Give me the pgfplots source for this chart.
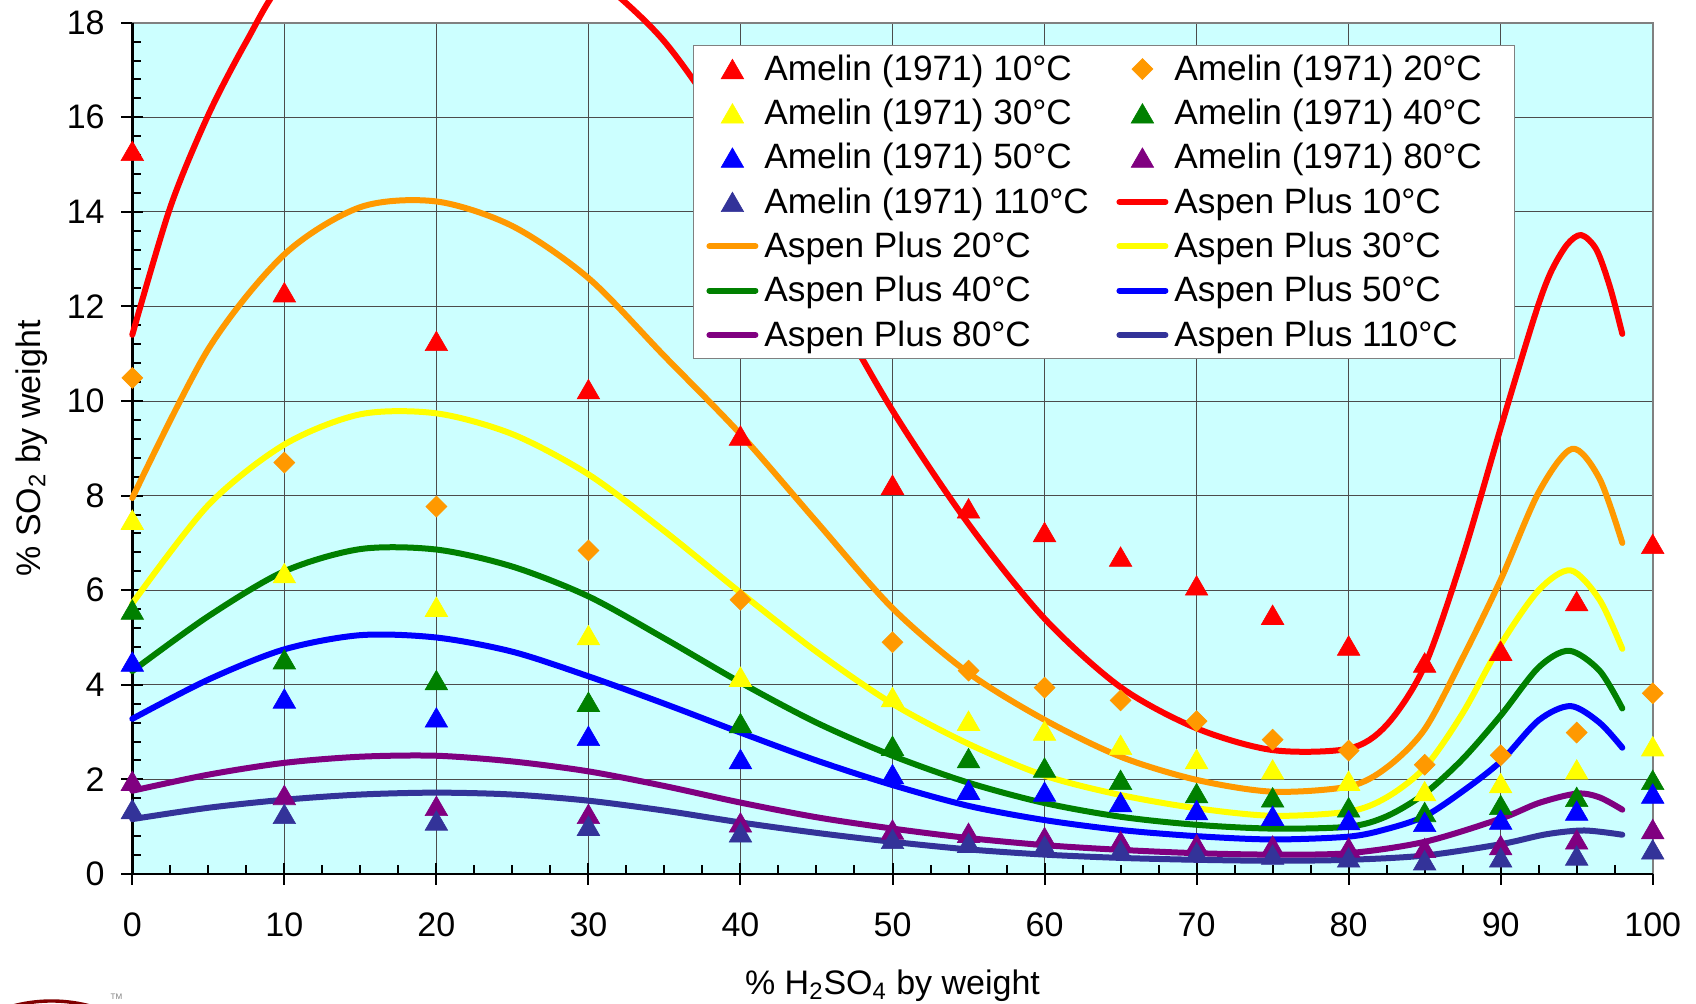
\documentclass[border=0pt]{standalone}
\usepackage{pgfplots}
\pgfplotsset{compat=1.18}
\usepackage{fontspec}
\setmainfont{Liberation Sans}
\definecolor{cR}{RGB}{255,0,0}
\definecolor{cO}{RGB}{255,153,0}
\definecolor{cY}{RGB}{255,255,0}
\definecolor{cG}{RGB}{0,128,0}
\definecolor{cB}{RGB}{0,0,255}
\definecolor{cP}{RGB}{128,0,128}
\definecolor{cI}{RGB}{51,51,153}
\definecolor{bg}{RGB}{204,255,255}
\definecolor{logo}{RGB}{128,0,0}
\pgfplotsset{
 legline/.style={legend image code/.code={\path[draw=none,fill=none] (0pt,0pt) -- (25pt,0pt); \draw[##1, line width=3pt, line cap=round] (1pt,0pt) -- (24pt,0pt);}},
 legmark/.style={legend image code/.code={\path[draw=none,fill=none] (0pt,0pt) -- (25pt,0pt); \draw[##1] plot[only marks] coordinates {(12.5pt,0pt)};}},
 asp/.style={color=#1, line width=3pt, line cap=round, line join=round, smooth, no markers, forget plot},
 aspleg/.style={color=#1, line width=3pt, line cap=round, legline},
 ame/.style={only marks, mark=triangle*, mark size=6.5pt, color=#1, mark options={solid, fill=#1, draw=#1, line width=0.3pt, yshift=-1.6pt}, legmark},
 amed/.style={only marks, mark=square*, mark size=3.7pt, color=#1, mark options={solid, fill=#1, draw=#1, line width=0.3pt, rotate=45}, legmark},
}
\newcommand{\ea}[1]{\makebox[176pt][l]{\rule[-3.5pt]{0pt}{16pt}#1}}
\newcommand{\eb}[1]{\makebox[163.5pt][l]{\rule[-3.5pt]{0pt}{16pt}#1}}
\begin{document}
\begin{tikzpicture}
\begin{axis}[
 scale only axis, width=760.2pt, height=425.65pt,
 xmin=0, xmax=100, ymin=0, ymax=18,
 clip=false,
 axis background/.style={fill=bg},
 axis line style={draw=none},
 xtick={0,10,...,100}, ytick={0,2,...,18},
 minor x tick num=3, minor y tick num=4,
 tick pos=left, tick align=inside,
 major tick length=5.5pt, minor tick length=4.5pt,
 tick style={black, line width=1pt},
 grid=major, major grid style={black!70, line width=0.5pt},
 /pgf/number format/assume math mode=true,
 tick label style={font=\fontsize{17}{20}\selectfont},
 xticklabel style={anchor=base, yshift=-31.5pt, inner sep=0pt},
 yticklabel style={anchor=east, xshift=-13.65pt, inner sep=0pt},
 xlabel={\% H\textsubscript{2}SO\textsubscript{4} by weight},
 ylabel={\% SO\textsubscript{2} by weight},
 every axis x label/.style={at={(axis description cs:0.5,-0.1417)}, anchor=base, font=\fontsize{17}{20}\selectfont},
 every axis y label/.style={at={(axis description cs:-0.0664,0.5)}, rotate=90, anchor=center, font=\fontsize{17}{20}\selectfont},
 legend columns=2, legend cell align=left,
 legend style={at={(0.3688,0.9733)}, anchor=north west, draw=gray, fill=white,
   inner xsep=6.5pt, inner ysep=4.5pt, row sep=7.9pt, column sep=0pt,
   font=\fontsize{17.6}{20}\selectfont, nodes={inner sep=0pt},
   /tikz/every odd column/.append style={column sep=3pt}},
]
% frame and outer halves of major ticks
\draw[gray, line width=1pt] (axis cs:0,18) -- (axis cs:100,18) -- (axis cs:100,0);
\draw[black, line width=1.3pt] (axis cs:0,18) -- (axis cs:0,0) -- (axis cs:100,0);
\pgfplotsinvokeforeach{0,10,...,100}{\draw[black, line width=1pt] (axis cs:#1,0) -- ([yshift=-5.5pt]axis cs:#1,0);}
\pgfplotsinvokeforeach{0,2,...,18}{\draw[black, line width=1pt] (axis cs:0,#1) -- ([xshift=-5.5pt]axis cs:0,#1);}

% Aspen Plus curves
\addplot[asp=cI] coordinates {(0,1.16) (5,1.4) (10,1.57) (15,1.68) (20,1.72) (25,1.68) (30,1.55) (35,1.34) (40,1.09) (45,0.87) (50,0.68) (55,0.52) (60,0.41) (65,0.34) (70,0.3) (75,0.28) (80,0.3) (85,0.39) (90,0.63) (93,0.84) (95.5,0.92) (98,0.83)};
\addplot[asp=cP] coordinates {(0,1.76) (5,2.1) (10,2.35) (15,2.48) (20,2.5) (25,2.38) (30,2.17) (35,1.86) (40,1.51) (45,1.2) (50,0.96) (55,0.76) (60,0.61) (65,0.51) (70,0.44) (75,0.41) (80,0.44) (85,0.68) (90,1.17) (92.5,1.5) (95,1.70) (96.5,1.62) (98,1.36)};
\addplot[asp=cB] coordinates {(0,3.28) (5,4.11) (10,4.75) (15,5.05) (20,5.0) (25,4.7) (30,4.18) (35,3.6) (40,2.99) (45,2.4) (50,1.88) (55,1.44) (60,1.14) (65,0.93) (70,0.8) (75,0.73) (80,0.79) (82.5,0.95) (85,1.22) (87.5,1.75) (90,2.38) (92.5,3.25) (94.6,3.55) (96.5,3.2) (98,2.67)};
\addplot[asp=cG] coordinates {(0,4.29) (5,5.45) (10,6.40) (15,6.87) (20,6.86) (25,6.5) (30,5.87) (35,4.98) (40,4.05) (45,3.2) (50,2.5) (55,1.93) (60,1.5) (65,1.21) (70,1.04) (75,0.96) (80,1.0) (82.5,1.22) (85,1.70) (87.5,2.43) (90,3.35) (92.5,4.37) (94.5,4.72) (96.5,4.3) (98,3.5)};
\addplot[asp=cY] coordinates {(0,5.72) (5,7.8) (10,9.08) (15,9.72) (20,9.74) (25,9.3) (30,8.45) (35,7.25) (40,5.95) (45,4.7) (50,3.6) (55,2.75) (60,2.08) (65,1.67) (70,1.39) (75,1.23) (80,1.32) (82.5,1.62) (85,2.25) (87.5,3.4) (90,4.85) (92.5,6.0) (94.6,6.42) (96.5,5.8) (98,4.76)};
\addplot[asp=cO] coordinates {(0,7.95) (5,11.1) (10,13.1) (15,14.1) (20,14.22) (25,13.7) (30,12.6) (35,10.95) (40,9.3) (45,7.45) (50,5.62) (55,4.25) (60,3.26) (65,2.48) (70,1.99) (75,1.74) (80,1.85) (82.5,2.25) (85,3.06) (87.5,4.57) (90,6.22) (92.5,8.07) (94.7,8.99) (96.5,8.36) (98,7.0)};
\addplot[asp=cR] coordinates {(0,11.4) (2.5,14.1) (5,16.05) (7.5,17.6) (10,18.9) (15,20.3) (20,20.8) (25,20.3) (30,19.1) (35,17.6) (40,15.3) (45,12.6) (50,9.8) (55,7.4) (60,5.4) (65,3.95) (70,3.08) (75,2.62) (80,2.65) (82.5,3.15) (85,4.4) (87.5,6.7) (90,9.43) (92.2,11.76) (93.25,12.69) (94.35,13.3) (95.3,13.51) (96.3,13.2) (97.2,12.4) (98,11.42)};

% Amelin (1971) data
\addplot[ame=cR] coordinates {(0,15.29) (10,12.30) (20,11.27) (30,10.25) (40,9.27) (50,8.23) (55,7.73) (60,7.23) (65,6.71) (70,6.10) (75,5.48) (80,4.83) (85,4.47) (90,4.72) (95,5.77) (100,6.98)};
\addlegendentry{\ea{Amelin (1971) 10°C}}
\addplot[amed=cO] coordinates {(0,10.49) (10,8.70) (20,7.77) (30,6.84) (40,5.80) (50,4.90) (55,4.30) (60,3.94) (65,3.67) (70,3.23) (75,2.84) (80,2.61) (85,2.31) (90,2.51) (95,2.99) (100,3.82)};
\addlegendentry{\eb{Amelin (1971) 20°C}}
\addplot[ame=cY] coordinates {(0,7.49) (10,6.36) (20,5.65) (30,5.05) (40,4.17) (50,3.74) (55,3.24) (60,3.03) (65,2.73) (70,2.43) (75,2.21) (80,1.97) (85,1.75) (90,1.92) (95,2.21) (100,2.70)};
\addlegendentry{\ea{Amelin (1971) 30°C}}
\addplot[ame=cG] coordinates {(0,5.59) (10,4.54) (20,4.10) (30,3.64) (40,3.19) (50,2.71) (55,2.45) (60,2.25) (65,1.99) (70,1.71) (75,1.62) (80,1.41) (85,1.31) (90,1.46) (95,1.63) (100,1.99)};
\addlegendentry{\eb{Amelin (1971) 40°C}}
\addplot[ame=cB] coordinates {(0,4.49) (10,3.71) (20,3.31) (30,2.92) (40,2.43) (50,2.11) (55,1.78) (60,1.74) (65,1.52) (70,1.35) (75,1.23) (80,1.14) (85,1.10) (90,1.15) (95,1.34) (100,1.70)};
\addlegendentry{\ea{Amelin (1971) 50°C}}
\addplot[ame=cP] coordinates {(0,1.97) (10,1.67) (20,1.44) (30,1.27) (40,1.09) (50,0.94) (55,0.87) (60,0.78) (65,0.70) (70,0.63) (75,0.60) (80,0.56) (85,0.55) (90,0.61) (95,0.73) (100,0.95)};
\addlegendentry{\eb{Amelin (1971) 80°C}}
\addplot[ame=cI] coordinates {(0,1.37) (10,1.27) (20,1.13) (30,1.02) (40,0.88) (50,0.74) (55,0.66) (60,0.60) (65,0.51) (70,0.46) (75,0.41) (80,0.35) (85,0.29) (90,0.35) (95,0.39) (100,0.52)};
\addlegendentry{\ea{Amelin (1971) 110°C}}

\addlegendimage{aspleg=cR}\addlegendentry{\eb{Aspen Plus 10°C}}
\addlegendimage{aspleg=cO}\addlegendentry{\ea{Aspen Plus 20°C}}
\addlegendimage{aspleg=cY}\addlegendentry{\eb{Aspen Plus 30°C}}
\addlegendimage{aspleg=cG}\addlegendentry{\ea{Aspen Plus 40°C}}
\addlegendimage{aspleg=cB}\addlegendentry{\eb{Aspen Plus 50°C}}
\addlegendimage{aspleg=cP}\addlegendentry{\ea{Aspen Plus 80°C}}
\addlegendimage{aspleg=cI}\addlegendentry{\eb{Aspen Plus 110°C}}
\end{axis}
% partial logo at the lower left edge
\draw[logo, line width=1.7pt] (-40.4pt,-138.5pt) circle (75pt);
\node[anchor=base west, inner sep=0pt, font=\fontsize{4}{5}\selectfont, text=gray] at (-11pt,-63pt) {TM};
\pgfresetboundingbox
\path[use as bounding box] (-66.15pt,-65pt) rectangle (781.85pt,437pt);
\end{tikzpicture}
\end{document}
